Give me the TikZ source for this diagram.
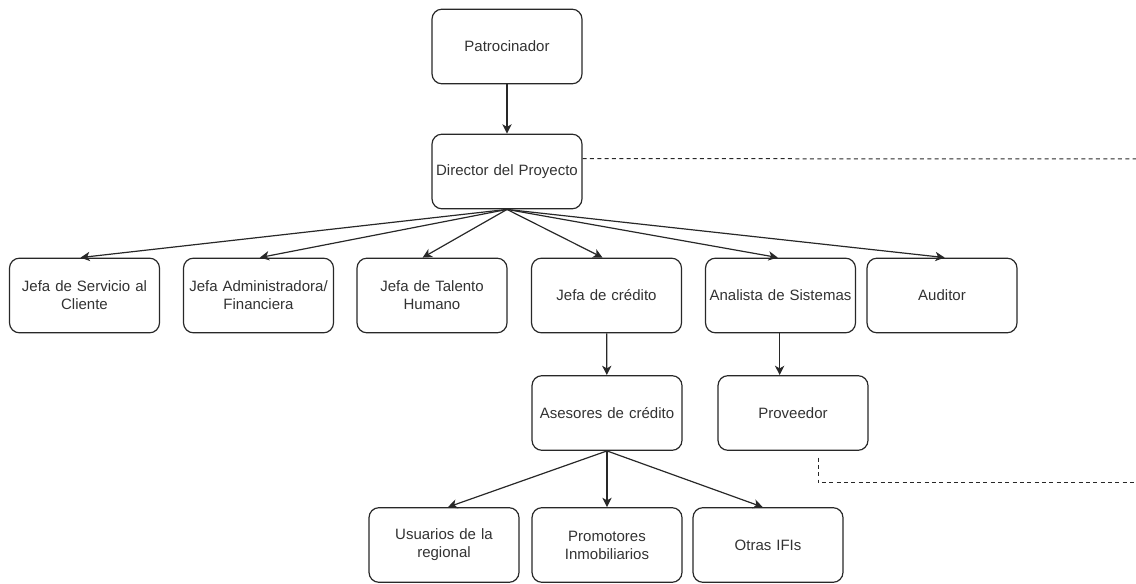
\documentclass[tikz,border=0pt]{standalone}
\usepackage{fontspec}
\setmainfont{Liberation Sans}
\usetikzlibrary{arrows.meta,calc}
\definecolor{ln}{RGB}{40,40,40}
\definecolor{tx}{RGB}{50,50,50}
\tikzset{
  box/.style={draw=ln, line width=0.9pt, rounded corners=7.5pt, minimum width=112.5pt, minimum height=56pt,
    align=center, text=tx, font=\fontsize{11.25}{13.5}\selectfont, inner sep=1pt, text width=110pt},
  arr/.style={draw=ln, line width=0.9pt, -{Stealth[length=7pt,width=7pt,inset=2pt]}},
  dsh/.style={draw=ln, line width=0.75pt, dash pattern=on 3pt off 2.5pt}
}
\begin{document}
\begin{tikzpicture}[x=0.75pt,y=0.75pt]
\useasboundingbox (0,0) rectangle (1136,-584);
\node[box] (pat) at (507,-46.5) {Patrocinador};
\node[box] (dir) at (507,-171.5) {\raisebox{-2pt}{Director del Proyecto}};
\node[box] (s1) at (84.5,-295.5) {Jefa de Servicio al\\Cliente};
\node[box] (s2) at (258.5,-295.5) {Jefa Administradora/\\Financiera};
\node[box] (s3) at (432,-295.5) {Jefa de Talento\\Humano};
\node[box] (s4) at (606.5,-295.5) {Jefa de crédito};
\node[box] (s5) at (780.5,-295.5) {Analista de Sistemas};
\node[box] (s6) at (942,-295.5) {Auditor};
\node[box] (ase) at (607,-413) {Asesores de crédito};
\node[box] (prov) at (793,-413) {Proveedor};
\node[box] (u) at (444,-545) {Usuarios de la\\regional};
\node[box] (p) at (607,-545) {Promotores\\Inmobiliarios};
\node[box] (o) at (768,-545) {Otras IFIs};
\coordinate (e1) at (1136,-159);
\coordinate (e2) at (1136,-483);
\draw[arr] (pat) -- (dir);
\draw[arr] (dir.south) -- ([xshift=-3pt]s1.north);
\draw[arr] (dir.south) -- ([xshift=1pt]s2.north);
\draw[arr] (dir.south) -- ([xshift=-7pt]s3.north);
\draw[arr] (dir.south) -- ([xshift=-3pt]s4.north);
\draw[arr] (dir.south) -- ([xshift=-2pt]s5.north);
\draw[arr] (dir.south) -- ([xshift=2pt]s6.north);
\draw[arr] (s4) -- (ase);
\draw[arr] ([xshift=-10pt]prov.north |- s5.south) -- ([xshift=-10pt]prov.north);
\draw[arr] (ase.south) -- ([xshift=3pt]u.north);
\draw[arr] (ase.south) -- (p.north);
\draw[arr] (ase.south) -- ([xshift=-4pt]o.north);
\draw[dsh] ($(dir.north east)!0.33!(dir.south east)$) -- (e1);
\draw[dsh] ([xshift=18.75pt,yshift=-5pt]prov.south) |- (e2);
\end{tikzpicture}
\end{document}
